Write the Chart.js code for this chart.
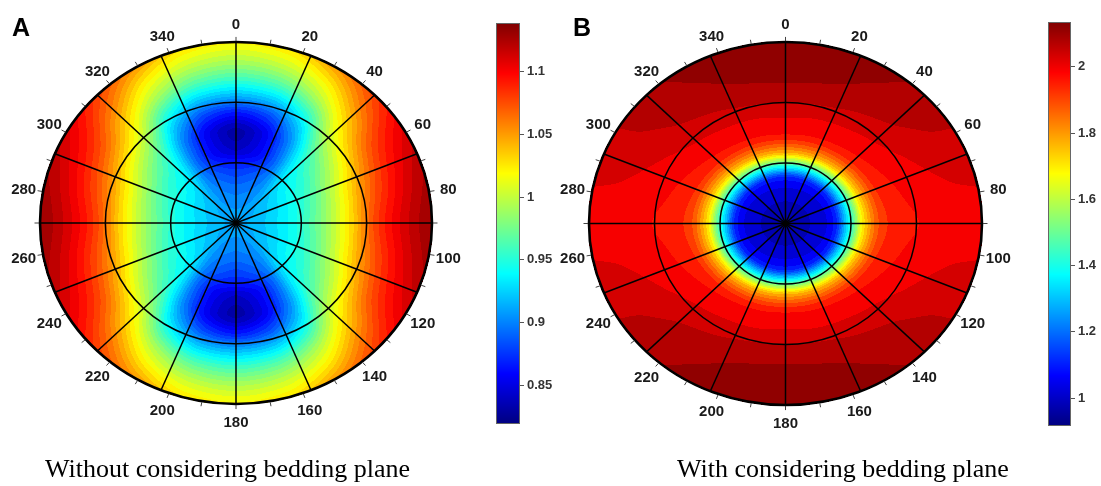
<!DOCTYPE html>
<html><head><meta charset="utf-8">
<script src="https://cdn.jsdelivr.net/npm/chart.js@4/dist/chart.umd.min.js"></script>
<style>
html,body{margin:0;padding:0;background:#fff;width:1101px;height:486px;overflow:hidden;position:relative}
canvas{position:absolute;top:0}
.lab{position:absolute;font:bold 25px 'Liberation Sans',Arial,sans-serif;line-height:25px;color:#000}
.cap{position:absolute;font:26px 'Liberation Serif','Times New Roman',serif;line-height:26px;color:#000;white-space:nowrap}
</style></head><body>
<canvas id="pA" width="480" height="486" style="left:0px"></canvas>
<canvas id="cbA" width="90" height="486" style="left:480px"></canvas>
<canvas id="pB" width="490" height="486" style="left:540px"></canvas>
<canvas id="cbB" width="71" height="486" style="left:1030px"></canvas>
<div class="lab" style="left:12px;top:15px">A</div>
<div class="lab" style="left:573px;top:15px">B</div>
<div class="cap" style="left:45px;top:456px">Without considering bedding plane</div>
<div class="cap" style="left:677px;top:456px">With considering bedding plane</div>
<script>
// ---------- grid of the polar field (first quadrant, angles clockwise from 0 at top) ----------
const radii  = [0, 0.1, 0.2, 0.25, 0.3, 0.35, 0.4, 0.5, 0.6, 0.7, 0.8, 0.9, 1.0];
const angles = [0, 15, 30, 45, 60, 75, 90];

// Panel A: without considering bedding plane (values along each angle, one per radius)
const A_0  = [0.912,0.905,0.893,0.884,0.874,0.860,0.843,0.832,0.862,0.915,0.960,0.995,1.022];
const A_15 = [0.912,0.906,0.896,0.889,0.880,0.867,0.855,0.850,0.875,0.920,0.965,1.000,1.027];
const A_30 = [0.912,0.908,0.903,0.900,0.896,0.892,0.890,0.895,0.915,0.950,0.990,1.020,1.050];
const A_45 = [0.912,0.913,0.918,0.923,0.930,0.935,0.940,0.955,0.980,1.010,1.035,1.060,1.080];
const A_60 = [0.912,0.915,0.925,0.932,0.940,0.947,0.955,0.980,1.010,1.045,1.075,1.095,1.110];
const A_75 = [0.912,0.917,0.928,0.935,0.943,0.953,0.965,0.995,1.030,1.065,1.090,1.110,1.125];
const A_90 = [0.912,0.918,0.930,0.937,0.945,0.957,0.970,1.000,1.035,1.075,1.100,1.118,1.132];

// Panel B: with considering bedding plane
const B_0  = [0.97,0.99,1.040,1.100,1.320,1.580,1.800,1.980,2.020,2.070,2.100,2.115,2.120];
const B_15 = [0.97,0.99,1.040,1.100,1.315,1.575,1.795,1.975,2.015,2.065,2.095,2.110,2.118];
const B_30 = [0.97,0.99,1.038,1.098,1.310,1.565,1.785,1.970,2.010,2.050,2.080,2.095,2.105];
const B_45 = [0.97,0.99,1.035,1.095,1.300,1.550,1.770,1.960,2.000,2.035,2.060,2.075,2.085];
const B_60 = [0.97,0.99,1.033,1.093,1.290,1.530,1.750,1.945,1.985,2.010,2.030,2.045,2.050];
const B_75 = [0.97,0.99,1.031,1.091,1.285,1.510,1.730,1.930,1.970,1.990,2.005,2.015,2.020];
const B_90 = [0.97,0.99,1.030,1.090,1.280,1.500,1.720,1.920,1.960,1.975,1.985,1.990,1.995];

// Colour scale ranges and colourbar ticks
const rangeA = [0.819, 1.139];
const rangeB = [0.916, 2.135];
const cbTicksA  = [0.85, 0.9, 0.95, 1, 1.05, 1.1];
const cbLabelsA = ['0.85','0.9','0.95','1','1.05','1.1'];
const cbTicksB  = [1, 1.2, 1.4, 1.6, 1.8, 2];
const cbLabelsB = ['1','1.2','1.4','1.6','1.8','2'];

// Polar axes
const spokeAngles = [0,22.5,45,67.5,90,112.5,135,157.5,180,202.5,225,247.5,270,292.5,315,337.5];
const ringRadii   = [1/3, 2/3];
const angleLabels = [0,20,40,60,80,100,120,140,160,180,200,220,240,260,280,300,320,340];
const minorTicks  = [0,10,20,30,40,50,60,70,80,90,100,110,120,130,140,150,160,170,180,190,200,210,220,230,240,250,260,270,280,290,300,310,320,330,340,350];

const gridA = [A_0,A_15,A_30,A_45,A_60,A_75,A_90];
const gridB = [B_0,B_15,B_30,B_45,B_60,B_75,B_90];

function clamp(v){return v<0?0:(v>1?1:v);}
function jet(t){
  t = clamp(t);
  return [clamp(1.5-Math.abs(4*t-3)), clamp(1.5-Math.abs(4*t-2)), clamp(1.5-Math.abs(4*t-1))];
}
// monotone cubic Hermite through the grid nodes (display smoothing only)
function hermite(xs, ys, x){
  const n = xs.length;
  let i = 0; while (i < n-2 && x > xs[i+1]) i++;
  const h = xs[i+1]-xs[i], t = clamp((x-xs[i])/h);
  const slope = k => {
    if (k<=0) return (ys[1]-ys[0])/(xs[1]-xs[0]);
    if (k>=n-1) return (ys[n-1]-ys[n-2])/(xs[n-1]-xs[n-2]);
    const d0 = (ys[k]-ys[k-1])/(xs[k]-xs[k-1]), d1 = (ys[k+1]-ys[k])/(xs[k+1]-xs[k]);
    if (d0*d1 <= 0) return 0;
    return 2/(1/d0+1/d1);
  };
  const m0 = slope(i)*h, m1 = slope(i+1)*h;
  const t2=t*t, t3=t2*t;
  return (2*t3-3*t2+1)*ys[i] + (t3-2*t2+t)*m0 + (-2*t3+3*t2)*ys[i+1] + (t3-t2)*m1;
}
const angX = [-angles[1]].concat(angles, [180-angles[angles.length-2]]);
function sample(grid, r, th){
  const col = grid.map(c => hermite(radii, c, r));
  const ext = [col[1]].concat(col, [col[col.length-2]]);
  return hermite(angX, ext, th);
}

const polarPlugin = {
  id:'polarField',
  beforeDatasetsDraw(chart, args, opts){
    const {ctx, chartArea:a, scales:{x, y}} = chart;
    const L = Math.floor(a.left), T = Math.floor(a.top);
    const w = Math.ceil(a.right)-L, h = Math.ceil(a.bottom)-T;
    const off = document.createElement('canvas'); off.width = w; off.height = h;
    const octx = off.getContext('2d');
    const img = octx.createImageData(w, h);
    const [cmin, cmax] = opts.range, step = (cmax-cmin)/opts.levels;
    for (let py=0; py<h; py++){
      const vy = y.getValueForPixel(T+py+0.5);
      for (let px=0; px<w; px++){
        const vx = x.getValueForPixel(L+px+0.5);
        const r = Math.hypot(vx, vy);
        if (r > 1.005) continue;
        let th = Math.atan2(vx, vy)*180/Math.PI; if (th<0) th += 360;
        th = th % 180; if (th > 90) th = 180-th;
        const v = sample(opts.grid, Math.min(r,1), th);
        const q = cmin + (Math.floor((v-cmin)/step)+0.5)*step;
        const c = jet((q-cmin)/(cmax-cmin));
        const k = (py*w+px)*4;
        img.data[k]=Math.round(c[0]*255); img.data[k+1]=Math.round(c[1]*255); img.data[k+2]=Math.round(c[2]*255); img.data[k+3]=255;
      }
    }
    octx.putImageData(img, 0, 0);
    ctx.drawImage(off, L, T);
  },
  afterDatasetsDraw(chart){
    const {ctx, scales:{x, y}} = chart;
    const cx = x.getPixelForValue(0), cy = y.getPixelForValue(0);
    const P = (r, deg) => { const t = deg*Math.PI/180; return [x.getPixelForValue(r*Math.sin(t)), y.getPixelForValue(r*Math.cos(t))]; };
    const rx = x.getPixelForValue(1)-cx, ry = cy-y.getPixelForValue(1);
    ctx.save();
    ctx.strokeStyle = '#000'; ctx.lineWidth = 1.5;
    ringRadii.forEach(r => { ctx.beginPath(); ctx.ellipse(cx, cy, rx*r, ry*r, 0, 0, Math.PI*2); ctx.stroke(); });
    spokeAngles.forEach(d => { const [ex, ey] = P(1, d); ctx.beginPath(); ctx.moveTo(cx, cy); ctx.lineTo(ex, ey); ctx.stroke(); });
    ctx.lineWidth = 2.6;
    ctx.beginPath(); ctx.ellipse(cx, cy, rx, ry, 0, 0, Math.PI*2); ctx.stroke();
    ctx.fillStyle = '#000'; ctx.beginPath(); ctx.arc(cx, cy, 2.5, 0, Math.PI*2); ctx.fill();
    ctx.strokeStyle = '#444'; ctx.lineWidth = 1;
    minorTicks.forEach(d => { const [a1,b1] = P(1.005, d), [a2,b2] = P(1.028, d); ctx.beginPath(); ctx.moveTo(a1,b1); ctx.lineTo(a2,b2); ctx.stroke(); });
    ctx.fillStyle = '#1a1a1a'; ctx.font = "bold 15px 'Liberation Sans', Arial, sans-serif";
    ctx.textAlign = 'center'; ctx.textBaseline = 'middle';
    angleLabels.forEach(d => { const [lx, ly] = P(1.1, d); ctx.fillText(String(d), lx, ly+1); });
    ctx.restore();
  }
};

function polarChart(id, grid, range, levels, pad){
  return new Chart(document.getElementById(id), {
    type:'scatter',
    data:{datasets:[{data:[], pointRadius:0}]},
    options:{
      responsive:false, animation:false, events:[],
      layout:{padding:pad},
      scales:{x:{type:'linear', min:-1, max:1, display:false}, y:{type:'linear', min:-1, max:1, display:false}},
      plugins:{legend:{display:false}, tooltip:{enabled:false}, polarField:{grid, range, levels}}
    },
    plugins:[polarPlugin]
  });
}

const cbPlugin = {
  id:'cbar',
  beforeDatasetsDraw(chart){
    const {ctx, chartArea:a, scales:{y}} = chart;
    const [cmin, cmax] = [y.min, y.max];
    for (let py = Math.floor(a.top); py < Math.ceil(a.bottom); py++){
      const v = y.getValueForPixel(py+0.5);
      const c = jet((v-cmin)/(cmax-cmin));
      ctx.fillStyle = `rgb(${Math.round(c[0]*255)},${Math.round(c[1]*255)},${Math.round(c[2]*255)})`;
      ctx.fillRect(a.left, py, a.right-a.left, 1);
    }
    ctx.strokeStyle = '#666'; ctx.lineWidth = 1;
    ctx.strokeRect(a.left+0.5, a.top+0.5, a.right-a.left-1, a.bottom-a.top-1);
  }
};

function colorbar(id, range, ticks, labels, pad, axisW){
  return new Chart(document.getElementById(id), {
    type:'scatter',
    data:{datasets:[{data:[], pointRadius:0}]},
    options:{
      responsive:false, animation:false, events:[],
      layout:{padding:pad},
      scales:{
        x:{type:'linear', display:false, min:0, max:1},
        y:{type:'linear', position:'right', min:range[0], max:range[1],
           afterBuildTicks:s => { s.ticks = ticks.map(v => ({value:v})); },
           afterFit:s => { s.width = axisW; },
           ticks:{autoSkip:false, padding:3, color:'#333', font:{family:"'Liberation Sans', Arial, sans-serif", size:13, weight:'bold'},
                  callback:(v, i) => labels[i]},
           grid:{drawOnChartArea:false, drawTicks:true, tickLength:4, color:'#555', lineWidth:1},
           border:{display:false}}
      },
      plugins:{legend:{display:false}, tooltip:{enabled:false}}
    },
    plugins:[cbPlugin]
  });
}

polarChart('pA', gridA, rangeA, 40, {left:40, top:42, right:48, bottom:82});
polarChart('pB', gridB, rangeB, 30, {left:49, top:42, right:48, bottom:81});
colorbar('cbA', rangeA, cbTicksA, cbLabelsA, {left:16, top:23, bottom:62, right:0}, 50);
colorbar('cbB', rangeB, cbTicksB, cbLabelsB, {left:18, top:22, bottom:60, right:0}, 30);
</script>
</body></html>
